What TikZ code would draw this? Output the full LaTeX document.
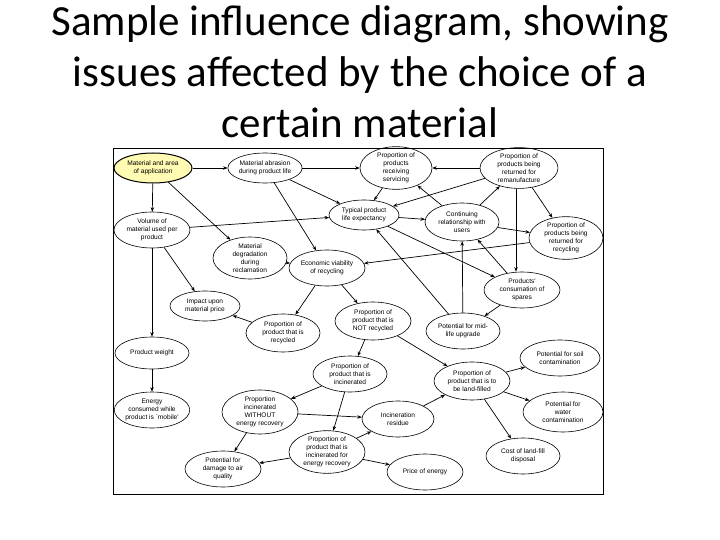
\documentclass[tikz,border=0pt]{standalone}
\usepackage{fontspec}
\setmainfont{Carlito}
\newfontfamily\dfont{Liberation Sans}
\usetikzlibrary{shapes.geometric,arrows.meta}
\begin{document}
\begin{tikzpicture}[x=1pt,y=-1pt,
  el/.style={ellipse,draw,line width=0.6pt,inner sep=0pt,align=center,font=\dfont\fontsize{6.6}{8}\selectfont},
  ar/.style={-{Stealth[length=4.5pt,width=3.5pt]},line width=0.7pt}]
\useasboundingbox (0,0) rectangle (720,540);
\node[font=\fontsize{43}{51}\selectfont,align=center] (title) at (360,72) {Sample influence diagram, showing\\issues affected by the choice of a\\certain material};
\draw[line width=0.8pt] (113,148) rectangle (603,494);
\node[el,fill=yellow!30,line width=1pt,minimum width=78,minimum height=30] (mat) at (153,168) {Material and area\\of application};
\node[el,minimum width=74,minimum height=30] (abr) at (265,168) {Material abrasion\\during product life};
\node[el,minimum width=72,minimum height=36] (serv) at (396,168) {Proportion of\\products\\receiving\\servicing};
\node[el,minimum width=78,minimum height=38] (reman) at (519,168) {Proportion of\\products being\\returned for\\remanufacture};
\node[el,minimum width=70,minimum height=30] (life) at (364,215) {Typical product\\life expectancy};
\node[el,minimum width=74,minimum height=38] (cont) at (462,222) {Continuing\\relationship with\\users};
\node[el,minimum width=74,minimum height=42] (recyc) at (566,238) {Proportion of\\products being\\returned for\\recycling};
\node[el,minimum width=76,minimum height=36] (vol) at (152,230) {Volume of\\material used per\\product};
\node[el,minimum width=74,minimum height=42] (degr) at (250,258) {Material\\degradation\\during\\reclamation};
\node[el,minimum width=76,minimum height=36] (econ) at (327,268) {Economic viability\\of recycling};
\node[el,minimum width=76,minimum height=36] (spares) at (522,290) {Products'\\consumation of\\spares};
\node[el,minimum width=70,minimum height=30] (impact) at (205,306) {Impact upon\\material price};
\node[el,minimum width=74,minimum height=38] (recycled) at (283,333) {Proportion of\\product that is\\recycled};
\node[el,minimum width=76,minimum height=38] (notrec) at (373,321) {Proportion of\\product that is\\NOT recycled};
\node[el,minimum width=74,minimum height=36] (upgr) at (463,331) {Potential for mid-\\life upgrade};
\node[el,minimum width=74,minimum height=32] (weight) at (152,353) {Product weight};
\node[el,minimum width=74,minimum height=36] (incin) at (350,374) {Proportion of\\product that is\\incinerated};
\node[el,minimum width=76,minimum height=38] (land) at (472,381) {Proportion of\\product that is to\\be land-filled};
\node[el,minimum width=80,minimum height=36] (soil) at (560,358) {Potential for soil\\contamination};
\node[el,minimum width=80,minimum height=40] (water) at (563,412) {Potential for\\water\\contamination};
\node[el,minimum width=74,minimum height=36] (energy) at (152,410) {Energy\\consumed while\\product is `mobile'};
\node[el,minimum width=76,minimum height=44] (without) at (260,412) {Proportion\\incinerated\\WITHOUT\\energy recovery};
\node[el,minimum width=72,minimum height=36] (residue) at (398,419) {Incineration\\residue};
\node[el,minimum width=76,minimum height=40] (withrec) at (327,452) {Proportion of\\product that is\\incinerated for\\energy recovery};
\node[el,minimum width=74,minimum height=36] (cost) at (523,456) {Cost of land-fill\\disposal};
\node[el,minimum width=76,minimum height=36] (air) at (223,469) {Potential for\\damage to air\\quality};
\node[el,minimum width=76,minimum height=36] (price) at (425,472) {Price of energy};
\foreach \a/\b in {mat/abr,mat/vol,mat/degr,abr/serv,abr/life,abr/econ,vol/life,vol/impact,vol/weight,
  degr/econ,econ/recycled,econ/notrec,recycled/impact,serv/life,reman/serv,reman/life,reman/recyc,
  cont/serv,cont/reman,cont/recyc,life/cont,life/spares,recyc/econ,upgr/life,upgr/cont,spares/cont,
  spares/upgr,notrec/incin,notrec/land,incin/without,incin/withrec,without/residue,without/air,
  withrec/air,withrec/residue,withrec/price,residue/land,land/soil,land/water,land/cost,weight/energy}
  \draw[ar] (\a) -- (\b);
\draw[ar] (reman.south -| 516,0) -- (spares.north -| 516,0);
\end{tikzpicture}
\end{document}
